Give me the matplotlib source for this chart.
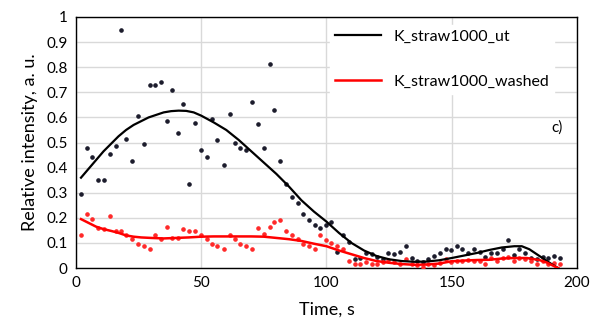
import matplotlib
matplotlib.use("Agg")
import matplotlib.pyplot as plt

# scatter data (time, s)
t = [2.1, 4.5, 6.4, 8.8, 11.2, 13.5, 15.9, 18.1, 20.1, 22.5, 24.8, 27.2, 29.6, 31.5,
     33.9, 36.3, 38.5, 40.9, 42.8, 45.1, 47.5, 49.9, 52.3, 54.3, 56.5, 58.9, 61.3,
     63.6, 65.6, 67.9, 70.3, 72.7, 74.9, 77.3, 79.2, 81.6, 84.0, 86.3, 88.7, 90.5,
     92.9, 95.3, 97.6, 100.0, 102.0, 104.3, 106.5, 108.9, 111.3, 113.3, 115.6, 118.0,
     120.3, 122.7, 124.5, 126.9, 129.3, 131.6, 134.0, 136.3, 138.4, 140.7, 142.9,
     145.3, 147.6, 149.6, 152.0, 154.3, 156.6, 159.0, 161.2, 163.3, 165.6, 168.0,
     170.3, 172.4, 174.7, 177.0, 179.3, 181.8, 184.0, 186.3, 188.6, 190.8, 193.1]

ut = [0.296, 0.479, 0.442, 0.352, 0.352, 0.454, 0.487, 0.949, 0.516, 0.426, 0.604,
      0.496, 0.728, 0.728, 0.742, 0.587, 0.709, 0.539, 0.652, 0.333, 0.576, 0.469,
      0.441, 0.595, 0.511, 0.412, 0.615, 0.500, 0.478, 0.469, 0.661, 0.572, 0.478,
      0.813, 0.629, 0.426, 0.336, 0.285, 0.261, 0.215, 0.191, 0.172, 0.158, 0.173,
      0.182, 0.064, 0.130, 0.105, 0.036, 0.040, 0.060, 0.055, 0.045, 0.035, 0.060,
      0.057, 0.064, 0.086, 0.040, 0.028, 0.025, 0.036, 0.049, 0.060, 0.077, 0.073,
      0.086, 0.075, 0.060, 0.075, 0.065, 0.045, 0.060, 0.060, 0.077, 0.111, 0.053,
      0.075, 0.060, 0.040, 0.036, 0.046, 0.042, 0.047, 0.041]

washed = [0.130, 0.215, 0.196, 0.159, 0.155, 0.206, 0.149, 0.149, 0.130, 0.117, 0.097,
          0.086, 0.077, 0.130, 0.115, 0.163, 0.119, 0.119, 0.154, 0.149, 0.149, 0.130,
          0.115, 0.095, 0.086, 0.077, 0.130, 0.115, 0.097, 0.086, 0.077, 0.158, 0.135,
          0.163, 0.182, 0.191, 0.149, 0.130, 0.115, 0.097, 0.086, 0.077, 0.130, 0.110,
          0.100, 0.086, 0.077, 0.030, 0.016, 0.016, 0.026, 0.016, 0.016, 0.026, 0.033,
          0.026, 0.016, 0.036, 0.016, 0.013, 0.004, 0.016, 0.013, 0.022, 0.036, 0.026,
          0.030, 0.030, 0.033, 0.030, 0.030, 0.018, 0.040, 0.030, 0.040, 0.045, 0.030,
          0.040, 0.035, 0.030, 0.018, 0.030, 0.015, 0.020, 0.015]

# trend lines
ut_fit_t = [2, 5, 8, 11, 14, 17, 20, 23, 26, 29, 32, 35, 38, 41, 44, 47, 50, 55, 60, 65,
            70, 75, 80, 85, 90, 95, 100, 105, 110, 115, 120, 125, 130, 135, 140, 145,
            150, 155, 160, 165, 170, 175, 178, 181, 184, 187, 190, 192.5]
ut_fit = [0.36, 0.395, 0.43, 0.465, 0.495, 0.525, 0.55, 0.57, 0.585, 0.60, 0.61, 0.62,
          0.625, 0.627, 0.626, 0.62, 0.607, 0.58, 0.55, 0.51, 0.465, 0.42, 0.375,
          0.325, 0.27, 0.225, 0.185, 0.14, 0.10, 0.07, 0.048, 0.035, 0.028, 0.025,
          0.026, 0.031, 0.04, 0.05, 0.06, 0.072, 0.082, 0.087, 0.087, 0.075, 0.055,
          0.035, 0.015, 0.0]

washed_fit_t = [2, 5, 8, 11, 14, 17, 20, 23, 26, 30, 35, 40, 45, 50, 55, 60, 65, 70, 75,
                80, 85, 90, 95, 100, 105, 110, 115, 120, 125, 130, 135, 140, 145, 150,
                155, 160, 165, 170, 175, 180, 185, 188, 190, 192.5]
washed_fit = [0.195, 0.18, 0.165, 0.155, 0.148, 0.14, 0.13, 0.125, 0.122, 0.12, 0.118,
              0.12, 0.122, 0.125, 0.126, 0.126, 0.126, 0.126, 0.125, 0.12, 0.115, 0.108,
              0.097, 0.087, 0.07, 0.055, 0.04, 0.028, 0.021, 0.016, 0.013, 0.014, 0.018,
              0.027, 0.03, 0.032, 0.033, 0.038, 0.04, 0.04, 0.032, 0.022, 0.012, 0.0]

plt.rcParams['font.family'] = ['Lato', 'DejaVu Sans']

fig = plt.figure(figsize=(5.9, 3.33), dpi=100)
ax = fig.add_axes([0.1288, 0.195, 0.849, 0.754])

ax.plot(t, ut, 'o', color='#1c1c2c', ms=2.3, zorder=3)
ax.plot(t, washed, 'o', color='#ff2a2a', ms=2.3, zorder=3)
ax.plot(ut_fit_t, ut_fit, color='black', lw=1.6, label='K_straw1000_ut', zorder=4)
ax.plot(washed_fit_t, washed_fit, color='red', lw=1.8, label='K_straw1000_washed', zorder=4)

ax.set_xlim(0, 200)
ax.set_ylim(0, 1)
ax.set_xticks([0, 50, 100, 150, 200])
ax.set_yticks([i / 10 for i in range(11)])
ax.set_yticklabels(['0', '0.1', '0.2', '0.3', '0.4', '0.5', '0.6', '0.7', '0.8', '0.9', '1'])
ax.tick_params(length=0, labelsize=11, pad=6)
ax.grid(True, color='#d9d9d9', lw=1)
ax.set_axisbelow(True)
for s in ax.spines.values():
    s.set_color('black')
    s.set_linewidth(1)

ax.set_xlabel('Time, s', fontsize=13, labelpad=8)
ax.set_ylabel('Relative intensity, a. u.', fontsize=13, labelpad=6)

leg = ax.legend(loc='upper right', bbox_to_anchor=(0.955, 0.97), fontsize=11.5,
                frameon=True, fancybox=False, edgecolor='white', framealpha=1,
                handlelength=2.9, handletextpad=0.8, labelspacing=1.95,
                borderpad=0.3, borderaxespad=0)
ax.text(0.96, 0.56, 'c)', transform=ax.transAxes, fontsize=11, ha='center', va='center')

fig.savefig('out.png', dpi=100)
